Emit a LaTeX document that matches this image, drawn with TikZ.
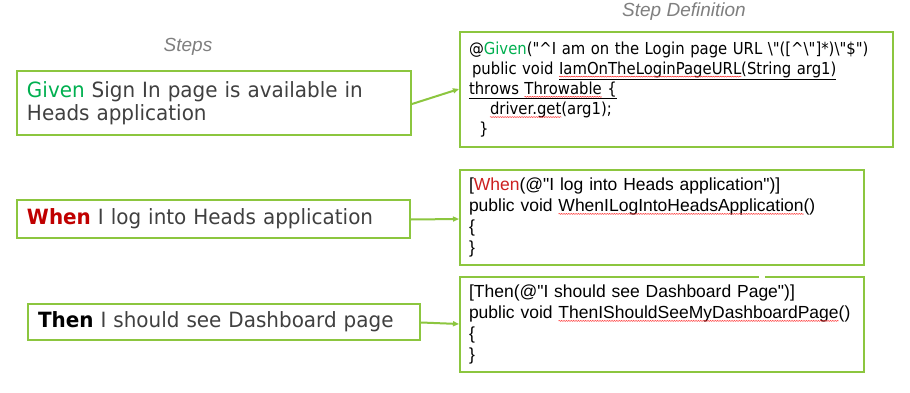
\documentclass[tikz,border=0pt]{standalone}
\usepackage{fontspec}
\setmainfont{Liberation Sans}
\newfontfamily\arial{Liberation Sans}
\newfontfamily\tahoma[FakeStretch=0.95]{DejaVu Sans}
\newfontfamily\tahomacode[FakeStretch=0.9]{DejaVu Sans}
\usetikzlibrary{arrows.meta,decorations.pathmorphing}
\definecolor{lime}{RGB}{140,198,63}
\definecolor{ggreen}{RGB}{0,176,80}
\definecolor{wred}{RGB}{192,0,0}
\definecolor{dred}{RGB}{204,32,32}
\definecolor{txtgray}{RGB}{64,64,64}
\definecolor{lblgray}{RGB}{127,127,127}
\newcommand\dq{\symbol{34}}
\newcommand\sq[1]{\tikz[baseline=(sqt.base)]{\node[inner sep=0pt,outer sep=0pt,draw=none,text width={},align=none,minimum width=0pt,minimum height=0pt](sqt){#1};\draw[overlay,red!85,line width=0.5pt,decorate,decoration={snake,amplitude=0.45pt,segment length=2.4pt}]([yshift=-2.4pt]sqt.base west)--([yshift=-2.4pt]sqt.base east);}}
\tikzset{
  stepbox/.style={draw=lime,line width=2pt,anchor=north west,inner xsep=10pt,inner ysep=0pt,align=left,text=txtgray,font=\tahoma\fontsize{21}{23}\selectfont},
  defbox/.style={draw=lime,line width=2pt,anchor=north west,inner xsep=9pt,inner ysep=0pt,align=left,text=black},
  lbl/.style={text=lblgray,font=\itshape\fontsize{19}{22}\selectfont},
  link/.style={draw=lime,line width=2pt,-{Triangle[length=6pt,width=5pt]}}
}
\begin{document}
\begin{tikzpicture}[x=1pt,y=-1pt]
\useasboundingbox[fill=white] (0,0) rectangle (910,393);
\node[lbl] (steps) at (188,47) {Steps};
\node[lbl] (stepdef) at (684,12) {Step Definition};
% left step boxes
\node[stepbox,minimum width=394,minimum height=64,text width=374] (g) at (16,70)
  {\textcolor{ggreen}{Given} Sign In page is available in\\Heads application};
\node[stepbox,minimum width=393,minimum height=38,text width=373] (w) at (16,199)
  {\textcolor{wred}{\bfseries When} I log into Heads application};
\node[stepbox,minimum width=392,minimum height=36,text width=372] (t) at (27,303)
  {\textcolor{black}{\bfseries Then} I should see Dashboard page};
% definition boxes
\node[defbox,minimum width=433,minimum height=115,text width=415,font=\tahomacode\fontsize{16.5}{20.2}\selectfont] (gd) at (459,31)
  {@\textcolor{ggreen}{Given}(\dq\textasciicircum I am on the Login page URL \textbackslash\dq([\textasciicircum\textbackslash\dq]*)\textbackslash\dq\$\dq)\\
   \hspace{3pt}public void \underline{\sq{IamOnTheLoginPageURL}(String arg1)}\\
   \underline{throws \sq{Throwable} \{}\\
   \hspace{21pt}\sq{driver.get}(arg1);\\
   \hspace{10pt}\}};
\node[defbox,minimum width=404,minimum height=95,text width=386,font=\arial\fontsize{17.5}{21}\selectfont] (wd) at (459,169)
  {[\textcolor{dred}{When}(@\dq I log into Heads application\dq)]\\
   public void \sq{WhenILogIntoHeadsApplication}()\\
   \{\\
   \}};
\node[defbox,minimum width=404,minimum height=95,text width=386,font=\arial\fontsize{17.5}{21}\selectfont] (td) at (459,276)
  {[Then(@\dq I should see Dashboard Page\dq)]\\
   public void \sq{ThenIShouldSeeMyDashboardPage}()\\
   \{\\
   \}};
\fill[white] (759,273) rectangle (765,279);
% connectors
\draw[link] ([yshift=-1pt]g.east) -- ([yshift=0.5pt]gd.west);
\draw[link] ([yshift=-0.5pt]w.east) -- ([yshift=-1.5pt]wd.west);
\draw[link] ([yshift=-0.5pt]t.east) -- ([yshift=0.5pt]td.west);
\end{tikzpicture}
\end{document}
